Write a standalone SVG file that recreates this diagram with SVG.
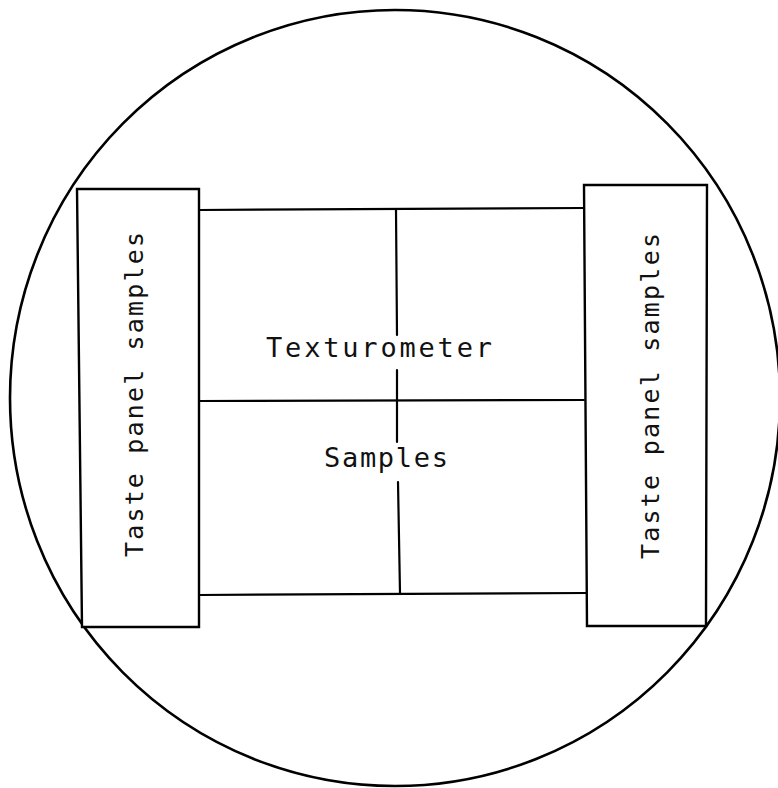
<svg xmlns="http://www.w3.org/2000/svg" width="778" height="788" viewBox="0 0 778 788">
<style>
.ln{stroke:#000;stroke-width:2.2;fill:none;stroke-linecap:round;stroke-linejoin:round}
.bx{stroke:#000;stroke-width:2.4;fill:#fff}
.tx{font-family:"DejaVu Sans Mono","Liberation Mono",monospace;fill:#111;text-anchor:middle}
</style>
<rect width="778" height="788" fill="#fff"/>
<ellipse id="circle" cx="395" cy="398" rx="385" ry="388" fill="none" stroke="#000" stroke-width="2.6"/>
<g id="connectors">
<path class="ln" d="M199 210 L584 208"/>
<path class="ln" d="M199 401 L584 400"/>
<path class="ln" d="M199 595 L586 593"/>
<path class="ln" d="M396 210 L397 335"/>
<path class="ln" d="M397 370 L397 442"/>
<path class="ln" d="M398 482 L400 593"/>
</g>
<g id="left-panel">
<path class="bx" d="M77 189 L199 189 L199 627 L82 627 Z"/>
<text class="tx" font-size="25" textLength="325" lengthAdjust="spacing" transform="translate(143,394.5) rotate(-90)">Taste panel samples</text>
</g>
<g id="right-panel">
<path class="bx" d="M584 185 L707 185 L706 626 L587 626 Z"/>
<text class="tx" font-size="25" textLength="326" lengthAdjust="spacing" transform="translate(659,396) rotate(-90)">Taste panel samples</text>
</g>
<g id="texturometer">
<text class="tx" x="379" y="357" font-size="27" textLength="226" lengthAdjust="spacing">Texturometer</text>
</g>
<g id="samples">
<text class="tx" x="386" y="467" font-size="27" textLength="124" lengthAdjust="spacing">Samples</text>
</g>
</svg>
